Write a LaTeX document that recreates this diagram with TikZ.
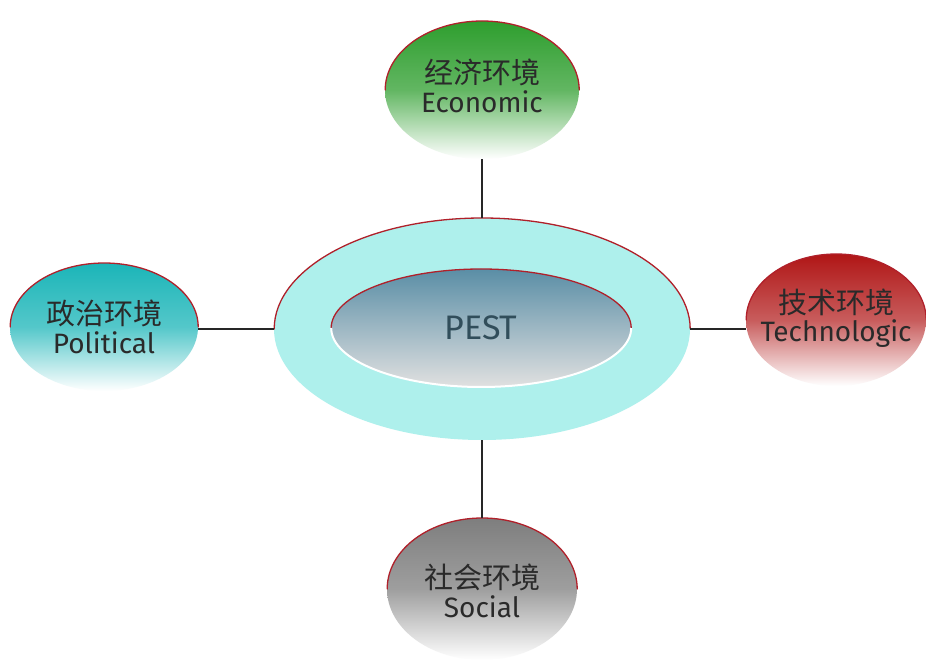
\documentclass[tikz,border=0pt]{standalone}
\usepackage{fontspec}
\setmainfont{Fira Sans}
\newfontfamily\cjk{Noto Sans CJK SC}
\usetikzlibrary{shapes.geometric}
\definecolor{ecoG}{HTML}{2E9E2E}
\definecolor{polT}{HTML}{1BB5B8}
\definecolor{tecR}{HTML}{B01616}
\definecolor{socG}{HTML}{7E7E7E}
\definecolor{ringC}{HTML}{AEF0EC}
\definecolor{pestB}{HTML}{5A8EA6}
\definecolor{edgeR}{HTML}{B0202A}
\definecolor{txt}{HTML}{2A2A2A}
\tikzset{
  env/.style={ellipse, inner sep=0pt, draw=none},
  lbl/.style={align=center, text=txt, inner sep=0pt},
  rim/.style={draw=edgeR, line width=1.3pt, line cap=round},
  link/.style={draw=black!85, line width=1.3pt},
}
\newcommand{\envtext}[2]{{\cjk\fontsize{29}{34}\selectfont #1}\\[3pt]{\fontsize{28}{34}\selectfont #2}}
\begin{document}
\begin{tikzpicture}[x=1pt,y=1pt]
\useasboundingbox (0,0) rectangle (926,659);
\fill[white] (0,0) rectangle (926,659);
% satellites
\node[env, minimum width=194pt, minimum height=138pt, top color=ecoG, bottom color=white, middle color=ecoG!75!white] (eco) at (482,569) {};
\node[env, minimum width=188pt, minimum height=128pt, top color=polT, bottom color=white, middle color=polT!75!white] (pol) at (104,332) {};
\node[env, minimum width=180pt, minimum height=132pt, top color=tecR, bottom color=white, middle color=tecR!70!white] (tec) at (836,339) {};
\node[env, minimum width=190pt, minimum height=142pt, top color=socG, bottom color=white, middle color=socG!75!white] (soc) at (482,70) {};
% rims
\draw[rim] (eco.east) arc[start angle=0, end angle=180, x radius=97, y radius=69];
\draw[rim] (pol.east) arc[start angle=0, end angle=180, x radius=94, y radius=64];
\draw[rim] (tec.east) arc[start angle=0, end angle=180, x radius=90, y radius=66];
\draw[rim] (soc.east) arc[start angle=0, end angle=180, x radius=95, y radius=71];
% labels
\node[lbl] (ecot) at ([yshift=4pt]eco.center) {\envtext{经济环境}{Economic}};
\node[lbl] (polt) at ([yshift=0pt]pol.center) {\envtext{政治环境}{Political}};
\node[lbl] (tect) at ([yshift=2pt]tec.center) {\envtext{技术环境}{Technologic}};
\node[lbl] (soct) at ([yshift=-2pt]soc.center) {\envtext{社会环境}{Social}};
% centre
\node[env, minimum width=416pt, minimum height=222pt, fill=ringC] (ring) at (482,330) {};
\draw[rim] (ring.east) arc[start angle=0, end angle=180, x radius=208, y radius=111];
\node[env, minimum width=300pt, minimum height=118pt, top color=pestB, bottom color=black!12] (pest) at (481,331) {};
\draw[rim] (pest.east) arc[start angle=0, end angle=180, x radius=150, y radius=59];
\draw[white, line width=2pt] (pest.east) arc[start angle=0, end angle=-180, x radius=150, y radius=59];
\node[font=\fontsize{34}{38}\selectfont, text=pestB!55!black] (pestlbl) at (pest.center) {PEST};
% connectors
\draw[link] (eco.south) -- (eco.south |- ring.north);
\draw[link] (soc.north) -- (soc.north |- ring.south);
\draw[link] (ring.west) -- (ring.west -| pol.east);
\draw[link] (ring.east) -- (ring.east -| tec.west);
\end{tikzpicture}
\end{document}
